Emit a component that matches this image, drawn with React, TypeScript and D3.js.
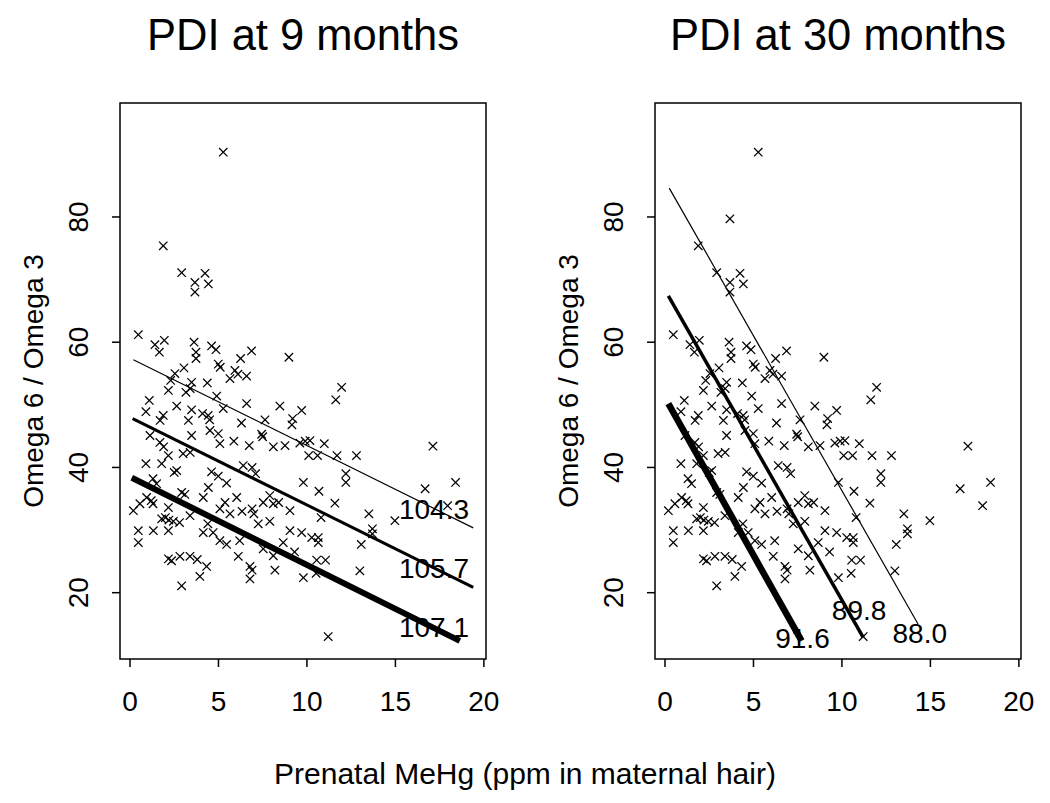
import React from 'react';
import * as d3 from 'd3';

// Prenatal MeHg (ppm) and Omega6/Omega3 ratio
const mehg = [
  5.27, 1.88, 2.92, 4.24, 3.67, 4.43, 3.67,
  0.47, 1.41, 1.94, 1.66, 3.62, 3.73, 3.73, 4.61, 4.86, 6.87, 6.25, 8.98, 4.99, 5.1, 3.05,
  5.93, 5.65, 6.59, 6.1, 2.54, 2.3, 3.48, 4.37, 2.17, 3.16, 3.4, 4.9, 1.09,
  2.64, 3.48, 4.1, 4.42, 4.5, 5.27, 6.59, 8.47, 9.7, 0.9, 1.88, 1.7, 3.3,
  6.3, 7.63, 9.19, 9.15, 1.13, 3.48, 4.52, 4.99, 5.08,
  5.87, 6.74, 7.44, 7.5, 8.1, 8.76, 9.6, 9.9,
  1.69, 1.9, 2.17, 3.0, 3.4, 0.9, 1.79, 2.64, 2.5,
  4.61, 4.99, 5.46, 6.4, 6.9, 7.1, 9.8, 1.3, 1.5,
  0.19, 0.56, 0.94, 1.2, 1.3, 0.47, 0.47, 1.32, 2.17, 2.17,
  1.79, 2.0, 2.2, 2.45, 2.8, 2.92, 3.1, 3.39, 4.14, 4.43,
  5.37, 5.08, 6.03, 5.65, 6.33, 6.9, 7.0,
  7.53, 7.9, 8.1, 8.4, 7.9, 7.25, 9.04, 9.04, 9.7,
  4.14, 4.4, 4.7, 5.08, 5.46, 6.2, 6.12,
  2.17, 2.35, 2.82, 3.39, 3.8, 4.33, 3.95, 2.92,
  6.78, 6.9, 6.78, 7.53, 8.1, 8.19, 8.66, 9.3, 9.8,
  11.96, 11.63, 10.17, 10.98, 10.1, 10.6, 11.7, 12.8, 17.12,
  12.2, 12.2, 10.68, 16.68, 18.4, 11.58, 17.95, 10.8, 13.5, 14.97,
  13.7, 13.7, 10.27, 10.64, 10.64, 13.07, 10.55, 11.05, 12.99, 10.52, 11.2
];
const ratio = [
  90.35, 75.4, 71.1, 71.0, 69.55, 69.3, 68.0,
  61.2, 59.6, 60.3, 58.4, 60.0, 58.4, 57.4, 59.4, 58.8, 58.6, 57.4, 57.6, 56.5, 56.0, 55.9,
  55.5, 54.2, 54.6, 54.9, 55.0, 53.9, 53.6, 53.5, 52.3, 52.0, 52.6, 51.4, 50.7,
  49.8, 49.2, 48.6, 48.3, 47.6, 49.4, 50.2, 49.8, 49.1, 48.9, 48.3, 47.5, 47.5,
  47.1, 47.6, 47.8, 46.8, 45.1, 45.1, 45.9, 45.4, 43.8,
  44.2, 43.5, 45.3, 44.9, 43.3, 43.5, 43.9, 44.2,
  44.0, 43.3, 41.9, 42.2, 42.4, 40.6, 40.6, 39.5, 39.2,
  39.3, 38.6, 37.5, 40.3, 40.0, 39.0, 37.6, 38.2, 37.4,
  33.1, 34.2, 35.2, 34.7, 34.2, 29.9, 28.0, 29.9, 29.9, 33.6,
  31.8, 32.0, 31.6, 31.4, 31.2, 36.0, 35.7, 32.3, 35.2, 36.8,
  34.4, 33.4, 35.2, 32.6, 33.0, 33.4, 32.6,
  34.4, 35.5, 34.2, 34.4, 31.4, 31.0, 33.1, 29.9, 29.6,
  29.6, 31.0, 29.6, 28.3, 27.7, 28.3, 25.8,
  25.4, 25.1, 25.8, 25.8, 25.3, 24.2, 22.6, 21.1,
  24.2, 23.6, 22.2, 27.0, 25.9, 23.6, 28.0, 26.5, 22.4,
  52.8, 50.8, 44.3, 43.8, 41.9, 41.9, 41.9, 41.9, 43.4,
  39.0, 37.6, 36.2, 36.6, 37.6, 34.3, 33.9, 32.0, 32.6, 31.5,
  30.2, 29.4, 28.8, 28.8, 28.0, 27.7, 25.2, 25.2, 23.5, 23.1, 13.0
];
// point only visible in the 30-month panel
const extraMehg30 = [3.67];
const extraRatio30 = [79.7];

const xTicks = [0, 5, 10, 15, 20];
const yTicks = [20, 40, 60, 80];

// fitted lines (start/end in data units) and their PDI labels
const lines9X0 = [0.19, 0.15, 0.1];
const lines9Y0 = [57.2, 47.8, 38.35];
const lines9X1 = [19.4, 19.4, 18.64];
const lines9Y1 = [30.35, 20.85, 12.3];
const labels9 = ['104.3', '105.7', '107.1'];
const labels9X = [17.18, 17.18, 17.18];
const labels9Y = [31.8, 22.35, 12.93];

const lines30X0 = [0.24, 0.19, 0.19];
const lines30Y0 = [84.6, 67.4, 50.2];
const lines30X1 = [14.3, 11.2, 7.72];
const lines30Y1 = [15.0, 12.85, 12.3];
const labels30 = ['88.0', '89.8', '91.6'];
const labels30X = [14.4, 10.97, 7.77];
const labels30Y = [11.97, 15.65, 11.17];

const FONT = '"Liberation Sans", Arial, Helvetica, sans-serif';

type PanelProps = {
  left: number;
  title: string;
  px: number[];
  py: number[];
  lx0: number[]; ly0: number[]; lx1: number[]; ly1: number[];
  widths: number[];
  labels: string[]; labX: number[]; labY: number[];
};

const TOP = 103;
const BOTTOM = 659;
const WIDTH = 366;

function Panel(p: PanelProps) {
  const x = d3.scaleLinear().domain([-0.565, 20.12]).range([p.left, p.left + WIDTH]);
  const y = d3.scaleLinear().domain([9.41, 98.2]).range([BOTTOM, TOP]);
  const s = 4.2;
  const cx = p.left + WIDTH / 2;
  return (
    <g>
      <text x={cx} y={50} textAnchor="middle" fontSize={43.5} fontFamily={FONT}>{p.title}</text>
      {p.px.map((v, i) => {
        const X = x(v), Y = y(p.py[i]);
        return (
          <g key={i} stroke="#000" strokeWidth={1.25}>
            <line x1={X - s} y1={Y - s} x2={X + s} y2={Y + s} />
            <line x1={X - s} y1={Y + s} x2={X + s} y2={Y - s} />
          </g>
        );
      })}
      {p.lx0.map((v, i) => (
        <line key={'l' + i} x1={x(v)} y1={y(p.ly0[i])} x2={x(p.lx1[i])} y2={y(p.ly1[i])}
          stroke="#000" strokeWidth={p.widths[i]} />
      ))}
      {p.labels.map((t, i) => (
        <text key={'t' + i} x={x(p.labX[i])} y={y(p.labY[i])} textAnchor="middle"
          fontSize={28} fontFamily={FONT}>{t}</text>
      ))}
      <rect x={p.left} y={TOP} width={WIDTH} height={BOTTOM - TOP} fill="none" stroke="#000" strokeWidth={1.5} />
      {xTicks.map((t) => (
        <g key={'x' + t}>
          <line x1={x(t)} x2={x(t)} y1={BOTTOM} y2={BOTTOM + 8} stroke="#000" strokeWidth={1.5} />
          <text x={x(t)} y={711} textAnchor="middle" fontSize={28} fontFamily={FONT}>{t}</text>
        </g>
      ))}
      {yTicks.map((t) => (
        <g key={'y' + t}>
          <line x1={p.left - 8} x2={p.left} y1={y(t)} y2={y(t)} stroke="#000" strokeWidth={1.5} />
          <text transform={`translate(${p.left - 32},${y(t)}) rotate(-90)`} textAnchor="middle"
            fontSize={28} fontFamily={FONT}>{t}</text>
        </g>
      ))}
      <text transform={`translate(${p.left - 77.5},${(TOP + BOTTOM) / 2}) rotate(-90)`} textAnchor="middle"
        fontSize={28} fontFamily={FONT}>Omega 6 / Omega 3</text>
    </g>
  );
}

export default function App() {
  return (
    <svg width={1050} height={803} style={{ position: 'absolute', left: 0, top: 0, background: '#fff' }}>
      <rect width={1050} height={803} fill="#fff" />
      <Panel left={120} title="PDI at 9 months" px={mehg} py={ratio}
        lx0={lines9X0} ly0={lines9Y0} lx1={lines9X1} ly1={lines9Y1} widths={[1.2, 3, 6]}
        labels={labels9} labX={labels9X} labY={labels9Y} />
      <Panel left={655} title="PDI at 30 months" px={mehg.concat(extraMehg30)} py={ratio.concat(extraRatio30)}
        lx0={lines30X0} ly0={lines30Y0} lx1={lines30X1} ly1={lines30Y1} widths={[1.2, 3.5, 6.5]}
        labels={labels30} labX={labels30X} labY={labels30Y} />
      <text x={525} y={784} textAnchor="middle" fontSize={30} fontFamily={FONT}>Prenatal MeHg (ppm in maternal hair)</text>
    </svg>
  );
}
